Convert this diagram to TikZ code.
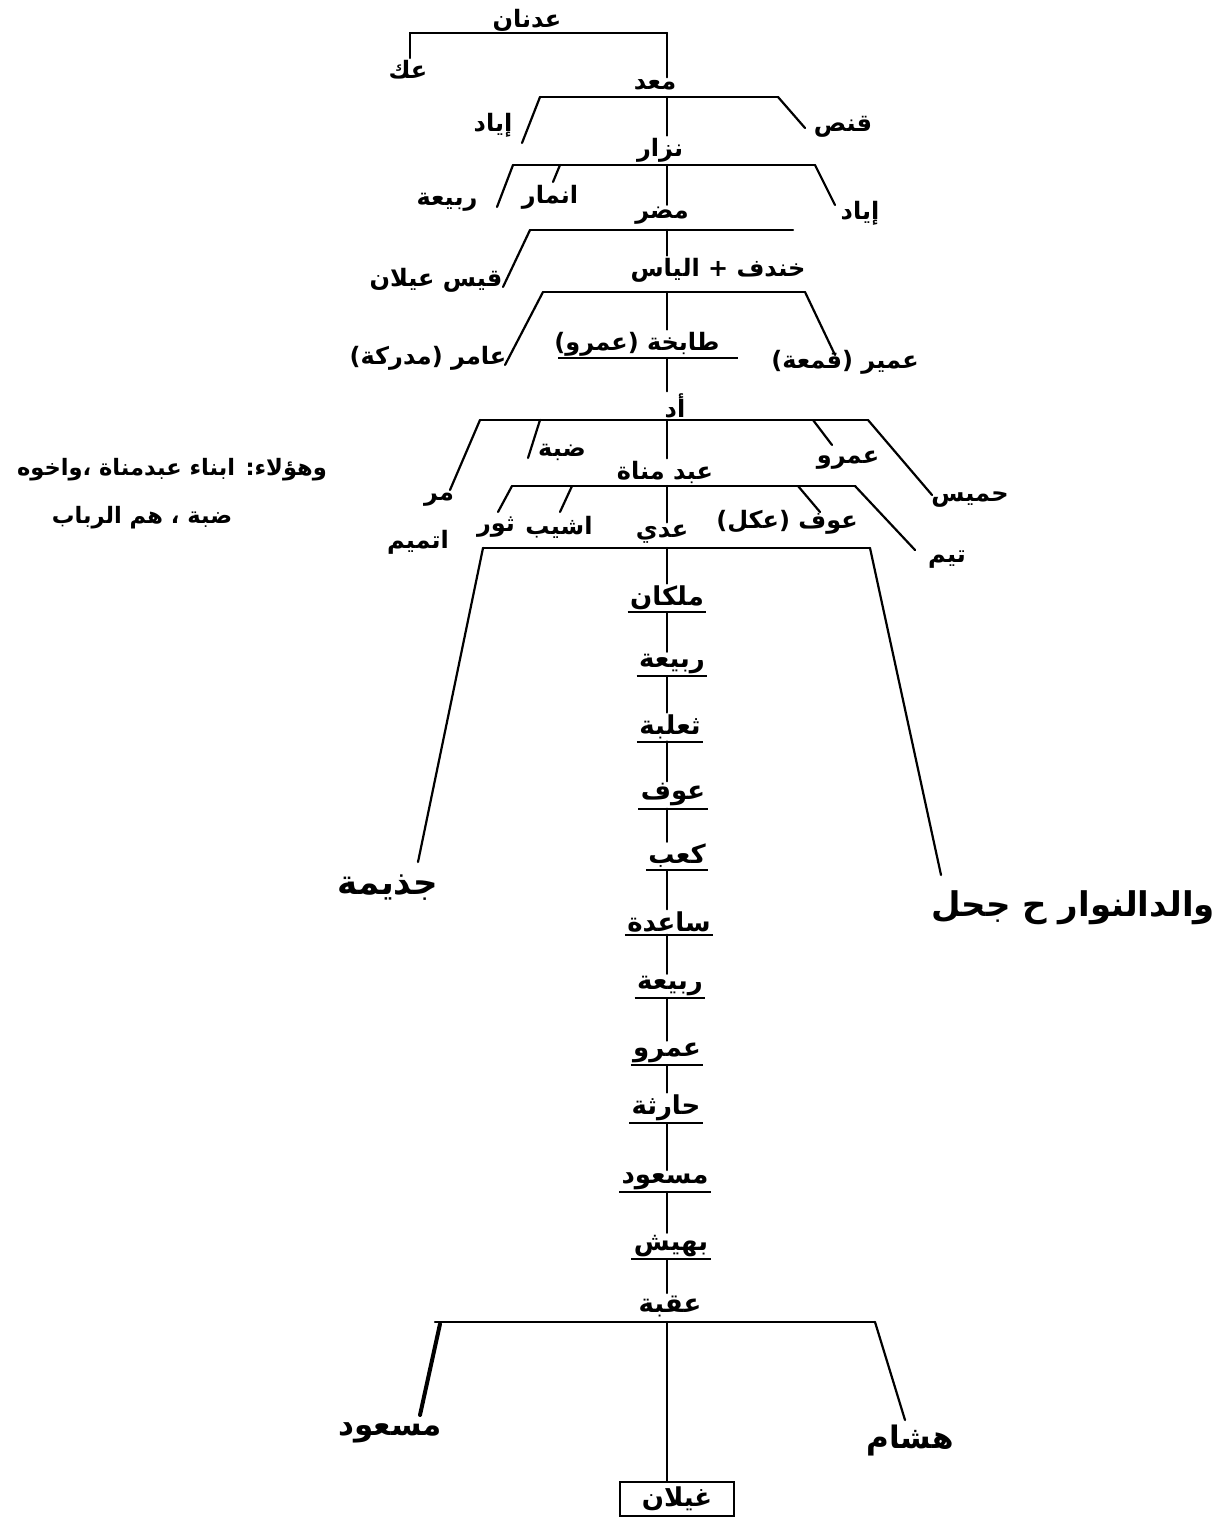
\documentclass[tikz,border=0pt]{standalone}
\usepackage{fontspec}
\newfontfamily\ar[Script=Arabic]{DejaVu Sans}
\TeXXeTstate=1
\newcommand{\rtl}[1]{\beginR #1\endR}
\begin{document}
\begin{tikzpicture}[x=0.5pt,y=-0.5pt]
\tikzset{
  lbl/.style={font={\fontsize{12}{14}\selectfont\ar\bfseries}, inner sep=1pt},
  notelbl/.style={font={\fontsize{11.3}{13}\selectfont\ar\bfseries}, inner sep=1pt},
  chain/.style={font={\fontsize{13}{15}\selectfont\ar\bfseries}, inner sep=1pt},
  midlbl/.style={font={\fontsize{15.5}{18}\selectfont\ar\bfseries}, inner sep=1pt},
  biglbl/.style={font={\fontsize{17}{20}\selectfont\ar\bfseries}, inner sep=1pt},
  ln/.style={line width=1.1pt, line cap=round},
  ulc/.style={line width=1pt},
  namebox/.style={draw, line width=1pt, minimum width=57pt, minimum height=17pt, inner sep=2pt}
}
\useasboundingbox (0,0) rectangle (1223,1518);
\coordinate (cx) at (667,0);

% ---- Adnan
\node[lbl] (n0) at (527,20) {\rtl{عدنان}};
\coordinate (b0l) at (410,33); \coordinate (b0c) at (667,33);
\node[lbl] (akk) at (408,70) {\rtl{عك}};
\draw[ln] (akk.north -| b0l) -- (b0l) -- (b0c);
\node[lbl] (n1) at (655,85) {\rtl{معد}};
\draw[ln] (b0c) -- (n1.north -| cx);

% ---- Ma'add
\coordinate (b1l) at (540,97); \coordinate (b1c) at (667,97); \coordinate (b1r) at (778,97);
\draw[ln] (b1l) -- (b1r);
\node[lbl] (iyad1) at (493,125) {\rtl{إياد}};
\node[lbl] (qunus) at (843,127) {\rtl{قنص}};
\coordinate (e1a) at (522,143); \coordinate (e1b) at (805,128);
\draw[ln] (b1l) -- (e1a);
\draw[ln] (b1r) -- (e1b);
\node[lbl] (n2) at (660,150) {\rtl{نزار}};
\draw[ln] (b1c) -- (n2.north -| cx);

% ---- Nizar
\coordinate (b2l) at (513,165); \coordinate (b2m) at (560,165); \coordinate (b2c) at (667,165); \coordinate (b2r) at (815,165);
\draw[ln] (b2l) -- (b2r);
\node[lbl] (rabia1) at (447,202) {\rtl{ربيعة}};
\node[lbl] (anmar) at (550,197) {\rtl{انمار}};
\node[lbl] (iyad2) at (860,213) {\rtl{إياد}};
\coordinate (e2a) at (497,207); \coordinate (e2b) at (553,182); \coordinate (e2c) at (835,205);
\draw[ln] (b2l) -- (e2a);
\draw[ln] (b2m) -- (e2b);
\draw[ln] (b2r) -- (e2c);
\node[lbl] (n3) at (662,216) {\rtl{مضر}};
\draw[ln] (b2c) -- (n3.north -| cx);

% ---- Mudar
\coordinate (b3l) at (530,230); \coordinate (b3c) at (667,230); \coordinate (b3r) at (793,230);
\draw[ln] (b3l) -- (b3r);
\node[lbl] (qays) at (436,280) {\rtl{قيس عيلان}};
\coordinate (e3a) at (503,287);
\draw[ln] (b3l) -- (e3a);
\node[lbl] (n4) at (718,270) {\rtl{خندف + الياس}};
\draw[ln] (b3c) -- (n4.north -| cx);

% ---- Khindif + Ilyas
\coordinate (b4l) at (543,292); \coordinate (b4c) at (667,292); \coordinate (b4r) at (805,292);
\draw[ln] (b4l) -- (b4r);
\node[lbl] (amir) at (428,358) {\rtl{عامر (مدركة)}};
\node[lbl] (umayr) at (845,362) {\rtl{عمير (قمعة)}};
\coordinate (e4a) at (505,365); \coordinate (e4b) at (835,355);
\draw[ln] (b4l) -- (e4a);
\draw[ln] (b4r) -- (e4b);
\node[lbl] (n5) at (637,344) {\rtl{طابخة (عمرو)}};
\draw[ln] (b4c) -- (n5.north -| cx);
\draw[ulc] ([xshift=3pt]n5.south west) -- ([xshift=8pt]n5.south east);

% ---- Udd
\node[lbl] (n6) at (675,406) {\rtl{أد}};
\draw[ln] (n5.south -| cx) -- (n6.north -| cx);
\coordinate (b6l) at (480,420); \coordinate (b6a) at (540,420); \coordinate (b6c) at (667,420);
\coordinate (b6b) at (813,420); \coordinate (b6r) at (868,420);
\draw[ln] (b6l) -- (b6r);
\node[lbl] (murr) at (439,500) {\rtl{مر}};
\node[lbl] (tamim) at (418,542) {\rtl{اتميم}};
\node[lbl] (dabba) at (562,452) {\rtl{ضبة}};
\node[lbl] (amr1) at (848,460) {\rtl{عمرو}};
\node[lbl] (humays) at (970,500) {\rtl{حميس}};
\coordinate (e6a) at (450,490); \coordinate (e6b) at (528,458);
\coordinate (e6c) at (832,445); \coordinate (e6d) at (932,495);
\draw[ln] (b6l) -- (e6a);
\draw[ln] (b6a) -- (e6b);
\draw[ln] (b6b) -- (e6c);
\draw[ln] (b6r) -- (e6d);
\node[lbl] (n7) at (665,472) {\rtl{عبد مناة}};
\draw[ln] (b6c) -- (n7.north -| cx);

% ---- Abd Manat
\coordinate (b7l) at (512,486); \coordinate (b7a) at (572,486); \coordinate (b7c) at (667,486);
\coordinate (b7b) at (798,486); \coordinate (b7r) at (855,486);
\draw[ln] (b7l) -- (b7r);
\node[lbl] (thawr) at (496,527) {\rtl{ثور}};
\node[lbl] (ashyab) at (559,527) {\rtl{اشيب}};
\node[lbl] (awf1) at (787,522) {\rtl{عوف (عكل)}};
\node[lbl] (taym) at (947,560) {\rtl{تيم}};
\coordinate (e7a) at (498,512); \coordinate (e7b) at (560,512);
\coordinate (e7c) at (820,512); \coordinate (e7d) at (915,550);
\draw[ln] (b7l) -- (e7a);
\draw[ln] (b7a) -- (e7b);
\draw[ln] (b7b) -- (e7c);
\draw[ln] (b7r) -- (e7d);
\node[lbl] (n8) at (662,534) {\rtl{عدي}};
\draw[ln] (b7c) -- (n8.north -| cx);

% ---- annotation
\node[notelbl] (note1) at (172,470) {\rtl{وهؤلاء: ابناء عبدمناة ،واخوه}};
\node[notelbl] (note2) at (142,518) {\rtl{ضبة ، هم الرباب}};

% ---- Adi
\coordinate (b8l) at (483,548); \coordinate (b8c) at (667,548); \coordinate (b8r) at (870,548);
\draw[ln] (b8l) -- (b8r);
\node[biglbl] (judhayma) at (388,888) {\rtl{جذيمة}};
\node[biglbl] (walid) at (1073,908) {\rtl{والدالنوار ح جحل}};
\coordinate (e8a) at (418,862); \coordinate (e8b) at (941,875);
\draw[ln] (b8l) -- (e8a);
\draw[ln] (b8r) -- (e8b);

% ---- chain
\node[chain] (n9)  at (667,598)  {\rtl{ملكان}};
\node[chain] (n10) at (672,664)  {\rtl{ربيعة}};
\node[chain] (n11) at (670,727)  {\rtl{ثعلبة}};
\node[chain] (n12) at (673,795)  {\rtl{عوف}};
\node[chain] (n13) at (677,856)  {\rtl{كعب}};
\node[chain] (n14) at (669,922)  {\rtl{ساعدة}};
\node[chain] (n15) at (670,986)  {\rtl{ربيعة}};
\node[chain] (n16) at (667,1053) {\rtl{عمرو}};
\node[chain] (n17) at (666,1108) {\rtl{حارثة}};
\node[chain] (n18) at (665,1181) {\rtl{مسعود}};
\node[chain] (n19) at (671,1246) {\rtl{بهيش}};
\node[chain] (n20) at (670,1306) {\rtl{عقبة}};
\draw[ln] (b8c) -- (n9.north -| cx);
\foreach \a/\b in {n9/n10,n10/n11,n11/n12,n12/n13,n13/n14,n14/n15,n15/n16,n16/n17,n17/n18,n18/n19,n19/n20}{
  \draw[ulc] (\a.south west) -- (\a.south east);
  \draw[ln] (\a.south -| cx) -- (\b.north -| cx);
}

% ---- Uqba
\coordinate (b20l) at (435,1322); \coordinate (b20c) at (667,1322); \coordinate (b20r) at (875,1322);
\draw[ln] (b20l) -- (b20r);
\node[midlbl] (masud2) at (390,1433) {\rtl{مسعود}};
\node[midlbl] (hisham) at (910,1440) {\rtl{هشام}};
\coordinate (b20la) at (440,1324);
\coordinate (e20a) at (420,1415); \coordinate (e20b) at (905,1420);
\draw[line width=2pt, line cap=round] (b20la) -- (e20a);
\draw[ln] (b20r) -- (e20b);
\node[chain, namebox] (ghaylan) at (677,1499) {\rtl{غيلان}};
\draw[ln] (b20c) -- (ghaylan.north -| cx);
\end{tikzpicture}
\end{document}
